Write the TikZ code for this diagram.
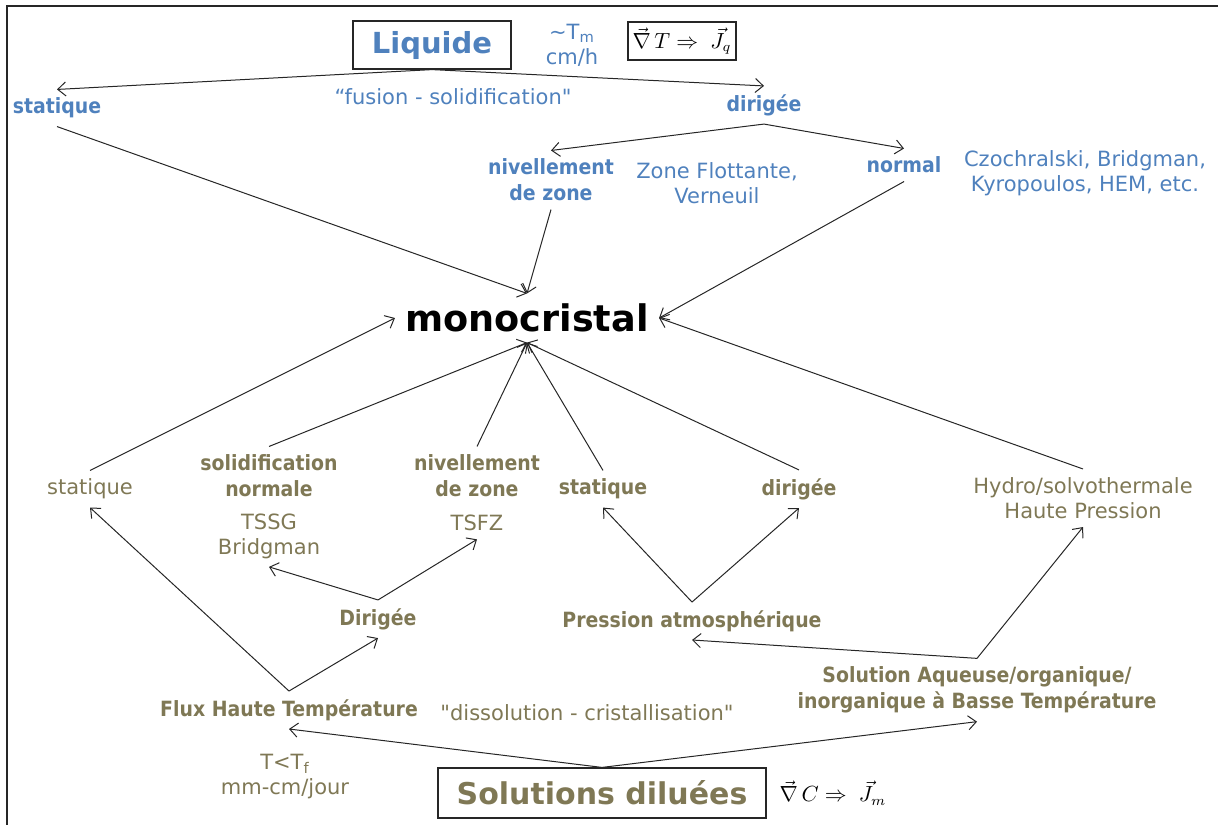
\documentclass[tikz,border=0pt]{standalone}
\usepackage{amsmath}
\usepackage{fontspec}
\setmainfont{DejaVu Sans}
\newfontfamily\condfont{DejaVu Sans Condensed}
\usetikzlibrary{arrows.meta}
\definecolor{ink}{HTML}{262626}
\definecolor{liqblue}{HTML}{4F81BD}
\definecolor{sololive}{HTML}{7F7855}

\begin{document}
\begin{tikzpicture}[x=0.5pt,y=-0.5pt,
  lbl/.style={align=center,inner sep=4pt,font=\condfont\bfseries\fontsize{10.5}{13}\selectfont},
  txt/.style={align=center,inner sep=4pt,font=\fontsize{10.5}{12.5}\selectfont},
  frame/.style={draw=ink,line width=0.6pt},
  arr/.style={draw=ink,line width=0.5pt,-{Straight Barb[length=4pt,width=7pt]}}]
\useasboundingbox (0,0) rectangle (1218,825);
\draw[ink,line width=1.2pt] (1218,6) -- (7,6) -- (7,825);
% liquid side
\node[frame,minimum width=79pt,minimum height=24pt,text=liqblue,font=\bfseries\fontsize{14.5}{16}\selectfont] (liq) at (432,45) {Liquide};
\node[txt,text=liqblue] (tm) at (572,45) {\textasciitilde T\textsubscript{m}\\cm/h};
\node[frame,minimum width=54pt,minimum height=19pt,inner sep=2pt,font=\fontsize{10.5}{12}\selectfont] (grq) at (682,41) {$\vec{\nabla}\,T\Rightarrow\;\vec{J}_{q}$};
\node[lbl,text=liqblue] (statA) at (57,108) {statique};
\node[txt,text=liqblue] (fus) at (453,97) {“fusion - solidification\textquotedbl};
\node[lbl,text=liqblue] (dirA) at (764,105) {dirigée};
\node[lbl,text=liqblue] (nivA) at (551,180) {nivellement\\de zone};
\node[txt,text=liqblue] (zf) at (717,183) {Zone Flottante,\\Verneuil};
\node[lbl,text=liqblue] (normA) at (904,165) {normal};
\node[txt,text=liqblue] (cz) at (1085,173) {Czochralski, Bridgman,\\Kyropoulos, HEM, etc.};
\node[inner sep=5pt,font=\bfseries\fontsize{18.3}{20}\selectfont] (mono) at (527,318) {monocristal};
% solution side
\node[txt,text=sololive] (statB) at (90,489) {statique};
\node[lbl,text=sololive] (solB) at (269,476) {solidification\\normale};
\node[txt,text=sololive] (tssg) at (269,536) {TSSG\\Bridgman};
\node[lbl,text=sololive] (nivB) at (477,476) {nivellement\\de zone};
\node[txt,text=sololive] (tsfz) at (477,523) {TSFZ};
\node[lbl,text=sololive] (statC) at (603,489) {statique};
\node[lbl,text=sololive] (dirB) at (799,489) {dirigée};
\node[txt,text=sololive] (hydro) at (1083,498) {Hydro/solvothermale\\Haute Pression};
\node[lbl,text=sololive] (dirC) at (378,619) {Dirigée};
\node[lbl,text=sololive] (press) at (692,621) {Pression atmosphérique};
\node[lbl,text=sololive] (flux) at (289,710) {Flux Haute Température};
\node[txt,text=sololive] (diss) at (587,713) {\textquotedbl dissolution - cristallisation\textquotedbl};
\node[lbl,text=sololive] (aq) at (977,690) {Solution Aqueuse/organique/\\inorganique à Basse Température};
\node[txt,text=sololive] (tf) at (285,777) {T<T\textsubscript{f}\\mm-cm/jour};
\node[frame,minimum width=164pt,minimum height=25pt,text=sololive,font=\bfseries\fontsize{15}{17}\selectfont] (sol) at (602,793) {Solutions diluées};
\node[font=\fontsize{10.5}{12}\selectfont] (grm) at (833,793) {$\vec{\nabla}\,C\Rightarrow\;\vec{J}_{m}$};
% connectors
\foreach \n in {statA,dirA} \draw[arr] (liq.south) -- (\n.north);
\foreach \n in {nivA,normA} \draw[arr] (dirA.south) -- (\n.north);
\foreach \n in {statA,nivA} \draw[arr] (\n.south) -- (mono.north);
\draw[arr] (normA.south) -- (mono.east);
\draw[arr] (hydro.north) -- (mono.east);
\draw[arr] (statB.north) -- (mono.west);
\foreach \n in {solB,nivB,statC,dirB} \draw[arr] (\n.north) -- (mono.south);
\foreach \n in {tssg,tsfz} \draw[arr] (dirC.north) -- (\n.south);
\foreach \n in {statC,dirB} \draw[arr] (press.north) -- (\n.south);
\foreach \n in {statB,dirC} \draw[arr] (flux.north) -- (\n.south);
\foreach \n in {press,hydro} \draw[arr] (aq.north) -- (\n.south);
\foreach \n in {flux,aq} \draw[arr] (sol.north) -- (\n.south);
\end{tikzpicture}
\end{document}
